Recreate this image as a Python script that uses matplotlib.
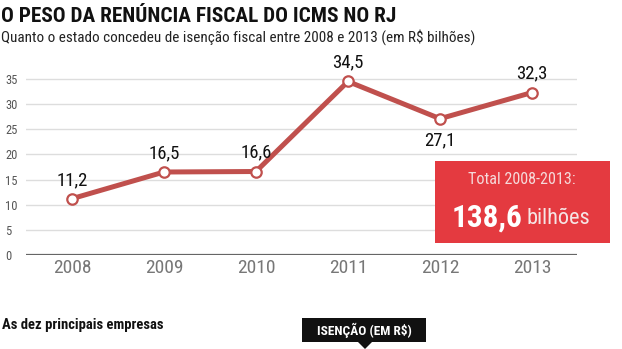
import matplotlib
matplotlib.use("Agg")
import matplotlib.pyplot as plt
from matplotlib.patches import Rectangle, Polygon

years = ["2008", "2009", "2010", "2011", "2012", "2013"]
values = [11.2, 16.5, 16.6, 34.5, 27.1, 32.3]
labels = ["11,2", "16,5", "16,6", "34,5", "27,1", "32,3"]
label_below = [False, False, False, False, True, False]
yticks = [0, 5, 10, 15, 20, 25, 30, 35]

title = "O PESO DA RENÚNCIA FISCAL DO ICMS NO RJ"
subtitle = "Quanto o estado concedeu de isenção fiscal entre 2008 e 2013 (em R$ bilhões)"
total_label = "Total 2008-2013:"
total_value = "138,6"
total_unit = "bilhões"

NARROW = ["Roboto Condensed", "Liberation Sans Narrow", "Roboto", "DejaVu Sans"]
plt.rcParams['font.family'] = NARROW

W, H = 622, 349
fig = plt.figure(figsize=(W / 100, H / 100), dpi=100)
fig.patch.set_facecolor("white")

def fx(px):
    return px / W

def fy(py):
    return 1 - py / H

x_left, x_right = 26, 577
y0_px = 255
ppu = 5.03
ymax = 37
top_px = y0_px - ymax * ppu
ax = fig.add_axes([fx(x_left), fy(y0_px), fx(x_right - x_left), (y0_px - top_px) / H])
x = list(range(len(years)))
step = (532 - 72) / 5
xmin = -(72 - x_left) / step
xmax = 5 + (x_right - 532) / step
ax.set_xlim(xmin, xmax)
ax.set_ylim(0, ymax)
for s in ax.spines.values():
    s.set_visible(False)
ax.set_yticks(yticks)
ax.set_yticklabels([str(t) for t in yticks], fontsize=9, color="#555555")
for lab in ax.get_yticklabels():
    lab.set_horizontalalignment("left")
ax.tick_params(axis="y", length=0, pad=15)
ax.set_xticks(x)
ax.set_xticklabels(years, fontsize=14, color="#777777")
ax.tick_params(axis="x", length=0, pad=3)
for t in yticks[1:]:
    ax.axhline(t, color="#dddddd", lw=1, zorder=1)
ax.axhline(0, color="#666666", lw=1.6, zorder=2)

ax.plot(x, values, color="#c0504d", lw=3.6, zorder=3, solid_joinstyle="miter")
ax.plot(x, values, ls="none", marker="o", markersize=7.5, markerfacecolor="white",
        markeredgecolor="#c0504d", markeredgewidth=1.6, zorder=4)
for xi, v, lab, below in zip(x, values, labels, label_below):
    if below:
        ax.annotate(lab, (xi, v), xytext=(0, -9), textcoords="offset points",
                    ha="center", va="top", fontsize=13.5, color="#111111", clip_on=False)
    else:
        ax.annotate(lab, (xi, v), xytext=(0, 7), textcoords="offset points",
                    ha="center", va="bottom", fontsize=13.5, color="#111111", clip_on=False)

fig.text(fx(1), fy(16), title, fontsize=15.3, fontweight="black", color="#111111",
         va="center", ha="left")
fig.text(fx(1), fy(37), subtitle, fontsize=10.9, color="#222222", va="center", ha="left")

fig.patches.append(Rectangle((fx(435), fy(243)), fx(610 - 435), (243 - 161) / H,
                             transform=fig.transFigure, facecolor="#e43a40",
                             edgecolor="none", zorder=5))
fig.text(fx(522), fy(179), total_label, fontsize=11.6, color="#f5dada", ha="center",
         va="center", zorder=6)
fig.text(fx(523), fy(218), total_value, fontsize=22.5, fontweight="black", color="white",
         ha="right", va="center", zorder=6)
fig.text(fx(527), fy(219), total_unit, fontsize=16, color="#f5e5e5", ha="left",
         va="center", zorder=6)

fig.text(fx(2), fy(325), "As dez principais empresas", fontsize=10.5, fontweight="bold",
         color="#111111", ha="left", va="center")
fig.patches.append(Rectangle((fx(302), fy(342)), fx(426 - 302), (342 - 318) / H,
                             transform=fig.transFigure, facecolor="#111111",
                             edgecolor="none", zorder=5))
fig.patches.append(Polygon([(fx(358), fy(342)), (fx(372), fy(342)), (fx(365), fy(349))],
                           closed=True, transform=fig.transFigure, facecolor="#111111",
                           edgecolor="none", zorder=5))
fig.text(fx(364), fy(330), "ISENÇÃO (EM R$)", fontsize=9.6, fontweight="black",
         color="white", ha="center", va="center", zorder=6)

fig.savefig("out.png", dpi=100, facecolor="white")
